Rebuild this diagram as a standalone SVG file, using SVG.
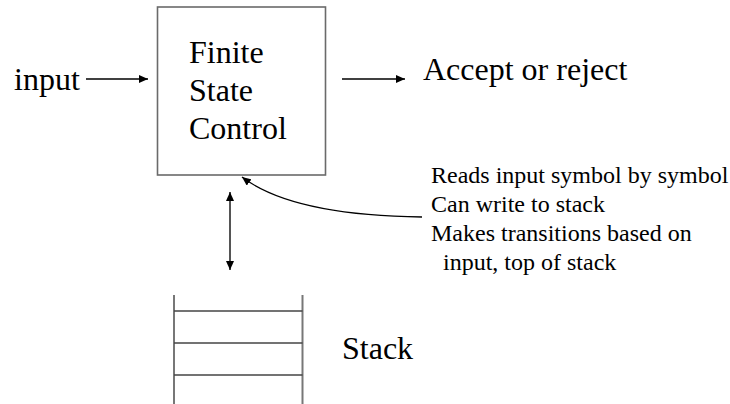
<svg xmlns="http://www.w3.org/2000/svg" width="730" height="404" viewBox="0 0 730 404" font-family="'Liberation Serif', 'Times New Roman', Tinos, 'DejaVu Serif', serif">
<style>
.big{font-size:32px;font-family:'Liberation Serif','Times New Roman',Tinos,'DejaVu Serif',serif}
.small{font-size:24px;font-family:'Liberation Serif','Times New Roman',Tinos,'DejaVu Serif',serif}
.conn{fill:none;stroke:#000;stroke-width:1.3}
.gray{fill:none;stroke:#555;stroke-width:2}
.box{fill:#fff;stroke:#6a6a6a;stroke-width:1.6}
.sv{stroke:#777;stroke-width:2}
.sh{stroke:#444;stroke-width:1.3}
</style>
<defs>
<marker id="ah" markerUnits="userSpaceOnUse" markerWidth="10" markerHeight="8" refX="9" refY="4" orient="auto-start-reverse">
<path d="M0,0 L9,4 L0,8 Z" fill="#000"/>
</marker>
</defs>
<rect width="730" height="404" fill="#fff"/>
<g id="input">
<text class="big" x="14" y="90">input</text>
</g>
<g id="fsc">
<rect class="box" x="157.5" y="7" width="168" height="168"/>
<text class="big" x="189" y="63">Finite</text>
<text class="big" x="189" y="101">State</text>
<text class="big" x="189" y="139">Control</text>
</g>
<g id="accept">
<text class="big" x="423" y="80">Accept or reject</text>
</g>
<g id="notes">
<text class="small" x="431" y="183">Reads input symbol by symbol</text>
<text class="small" x="431" y="212">Can write to stack</text>
<text class="small" x="431" y="241">Makes transitions based on</text>
<text class="small" x="443" y="270">input, top of stack</text>
</g>
<g id="stack">
<line class="sv" x1="174" y1="295" x2="174" y2="404"/>
<line class="sv" x1="302.5" y1="295" x2="302.5" y2="404"/>
<line class="sh" x1="174" y1="311" x2="302.5" y2="311"/>
<line class="sh" x1="174" y1="343" x2="302.5" y2="343"/>
<line class="sh" x1="174" y1="375" x2="302.5" y2="375"/>
<text class="big" x="342" y="359">Stack</text>
</g>
<g id="connectors">
<line class="conn" x1="86" y1="79" x2="148" y2="79" marker-end="url(#ah)"/>
<line class="conn" x1="342" y1="79" x2="405" y2="79" marker-end="url(#ah)"/>
<path class="conn" d="M422,217 C345,216 280,206 242,177" marker-end="url(#ah)"/>
<line class="gray" x1="230" y1="192" x2="230" y2="270" marker-start="url(#ah)" marker-end="url(#ah)"/>
</g>
</svg>
